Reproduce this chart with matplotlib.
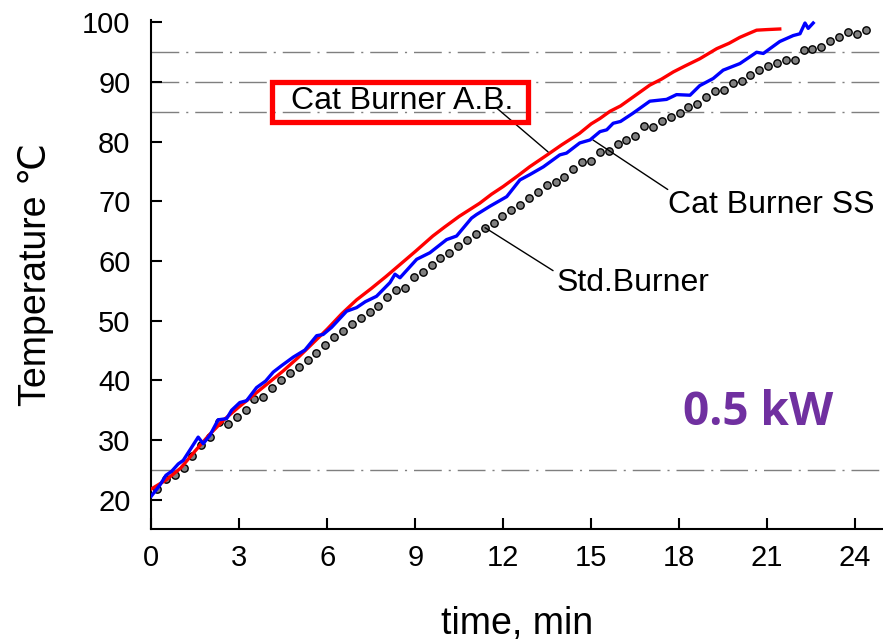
import numpy as np
import matplotlib
matplotlib.use("Agg")
import matplotlib.pyplot as plt
from matplotlib.patches import Rectangle

# Cat Burner A.B. (red)
ab_time = [0.0, 0.5, 1.0, 1.5, 2.0, 2.5, 3.0, 3.5, 4.0, 4.5, 5.0, 5.5, 6.0, 6.5, 7.0,
           7.5, 8.0, 8.5, 9.0, 9.6, 10.0, 10.5, 11.2, 11.6, 12.0, 12.5, 12.9, 13.5,
           14.0, 14.6, 15.0, 15.3, 15.64, 16.0, 16.43, 17.0, 17.4, 17.8, 18.2, 18.7,
           19.28, 19.7, 20.07, 20.4, 20.64, 21.0, 21.43]
ab_temp = [21.8, 23.3, 25.3, 28.2, 31.0, 33.5, 35.6, 37.6, 39.6, 41.6, 43.8, 46.2, 48.6,
           51.2, 53.5, 55.4, 57.4, 59.5, 61.6, 64.2, 65.7, 67.5, 69.7, 71.2, 72.5, 74.3,
           75.8, 77.8, 79.5, 81.4, 83.0, 83.9, 85.1, 86.0, 87.5, 89.5, 90.5, 91.7, 92.7,
           93.9, 95.6, 96.5, 97.5, 98.2, 98.7, 98.8, 98.9]

# Cat Burner SS (blue)
ss_time = [0.0, 0.3, 0.5, 0.7, 0.92, 1.09, 1.3, 1.6, 1.77, 2.0, 2.28, 2.57, 2.74, 3.02,
           3.25, 3.59, 3.9, 4.16, 4.45, 4.84, 5.24, 5.64, 5.86, 6.15, 6.66, 7.0, 7.3,
           7.68, 8.14, 8.31, 8.48, 9.05, 9.5, 10.07, 10.41, 10.92, 11.09, 11.55, 12.12,
           12.57, 12.91, 13.37, 13.93, 14.16, 14.61, 14.96, 15.3, 15.53, 15.75, 16.0,
           16.43, 17.0, 17.57, 17.91, 18.37, 18.7, 19.16, 19.5, 20.07, 20.64, 20.87,
           21.43, 21.89, 22.12, 22.29, 22.4, 22.57]
ss_temp = [20.6, 22.5, 24.1, 24.8, 26.0, 26.6, 28.2, 30.5, 29.4, 30.8, 33.4, 33.6, 35.0,
           36.3, 36.6, 38.8, 39.9, 41.4, 42.5, 43.9, 45.1, 47.5, 47.7, 48.9, 51.6, 52.2,
           53.2, 54.1, 56.4, 57.8, 57.2, 60.3, 61.4, 63.6, 64.2, 67.2, 67.8, 69.2, 70.8,
           73.6, 74.5, 75.8, 77.8, 78.1, 79.8, 80.3, 81.7, 82.0, 83.1, 83.4, 84.8, 86.8,
           87.1, 87.9, 87.8, 89.4, 90.6, 92.0, 93.1, 95.0, 94.8, 96.8, 97.8, 98.1, 99.9,
           99.0, 99.9]

# Std.Burner (dots, sampled every ~0.3 min)
std_temp = [21.8, 23.5, 24.1, 25.3, 27.3, 29.2, 30.5, 33.0, 32.7, 33.8, 35.1, 36.9, 37.3,
            38.7, 40.1, 41.2, 42.2, 43.4, 44.6, 46.0, 47.2, 48.3, 49.4, 50.4, 51.4, 52.4,
            53.9, 55.1, 55.5, 57.3, 58.1, 59.3, 60.5, 61.4, 62.5, 63.6, 64.6, 65.6, 66.4,
            67.6, 68.5, 69.4, 70.5, 71.6, 72.7, 73.3, 74.1, 75.4, 76.6, 76.7, 78.3, 78.5,
            79.6, 80.3, 81.0, 82.6, 82.4, 83.5, 84.2, 84.9, 85.8, 86.4, 87.5, 88.5, 88.6,
            89.8, 90.2, 91.2, 92.0, 92.7, 93.2, 93.7, 93.7, 95.3, 95.5, 95.8, 96.9, 97.5,
            98.4, 98.1, 98.7]
std_time = 0.198 + 0.302 * np.arange(len(std_temp))

ref_levels = [95, 90, 85, 25]
x_ticks = list(range(0, 25, 3))
y_ticks = list(range(20, 101, 10))

font = ["Liberation Sans", "DejaVu Sans"]
plt.rcParams["font.family"] = font

fig = plt.figure(figsize=(8.83, 6.42), dpi=100)
ax = fig.add_axes([0.1713, 0.176, 0.8287, 0.7928])

for lv in ref_levels:
    ax.axhline(lv, color="#7f7f7f", lw=1.0, ls=(0, (20, 5, 1.5, 5)), zorder=1)

ax.plot(std_time, std_temp, ls="none", marker="o", ms=5.3, mfc="#808080", mec="black",
        mew=1.0, zorder=2)
ax.plot(ab_time, ab_temp, color="#ff0000", lw=2.4, zorder=3)
ax.plot(ss_time, ss_temp, color="#0000ff", lw=2.4, zorder=4)

ax.set_xlim(0, 24.95)
ax.set_ylim(15.1, 100.4)
ax.set_xticks(x_ticks)
ax.set_yticks(y_ticks)
ax.tick_params(direction="in", length=8, width=1.5, labelsize=21)
ax.tick_params(axis="x", pad=11)
ax.tick_params(axis="y", pad=15)
ax.spines["top"].set_visible(False)
ax.spines["right"].set_visible(False)
ax.spines["left"].set_linewidth(1.5)
ax.spines["bottom"].set_linewidth(1.5)

ax.set_xlabel("time, min", fontsize=27, labelpad=24)
ax.set_ylabel("Temperature ℃", fontsize=27, labelpad=20)

# labels with leader lines
line_kw = dict(arrowstyle="-", lw=1.0, color="black", shrinkA=0, shrinkB=0)
ax.annotate("", xy=(13.53, 78.3), xytext=(11.79, 85.6), arrowprops=line_kw)
ax.annotate("", xy=(15.06, 80.3), xytext=(17.61, 72.0), arrowprops=line_kw)
ax.annotate("", xy=(11.38, 65.6), xytext=(13.70, 58.4), arrowprops=line_kw)

ax.text(8.56, 86.8, "Cat Burner A.B.", fontsize=23, ha="center", va="center", zorder=6)
ax.add_patch(Rectangle((4.115, 83.3), 8.725, 6.7, fill=False, ec="#ff0000", lw=3.8,
                       zorder=6, clip_on=False))
ax.text(17.61, 69.4, "Cat Burner SS", fontsize=23, ha="left", va="center")
ax.text(13.83, 56.3, "Std.Burner", fontsize=23, ha="left", va="center")

ax.text(20.7, 34.6, "0.5 kW", fontsize=33, fontweight="bold", family="Open Sans",
        color="#7030a0", ha="center", va="center")

fig.savefig("out.png", dpi=100)
